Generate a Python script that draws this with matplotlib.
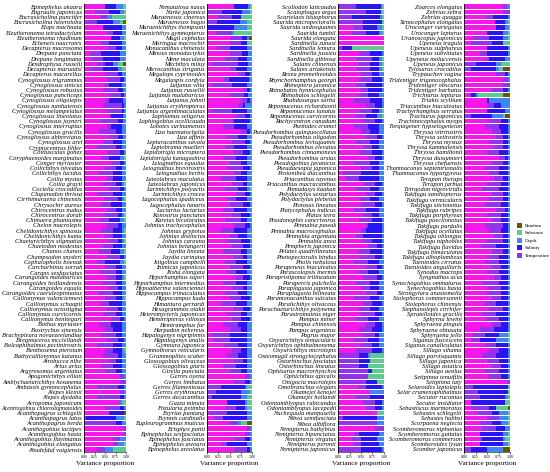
import matplotlib
matplotlib.use("Agg")
import matplotlib.pyplot as plt
from matplotlib.patches import Patch

# component order in the stacked bars (left -> right)
components = ["Spatial", "Temperature", "Salinity", "Depth", "Substrate", "Random"]
colors = ["#F618E8", "#9433EE", "#2A14F2", "#3F86F2", "#5DCB8F", "#6F5500"]
legend_order = ["Random", "Substrate", "Depth", "Salinity", "Temperature"]
x_ticks = [0.0, 0.25, 0.50, 0.75, 1.00]
x_ticklabels = ["0.00", "0.25", "0.50", "0.75", "1.00"]
x_label = "Variance proportion"

p1_species = [
    "Epinephelus akaara", "Engraulis japonicus", "Encrasicholina punctifer", "Encrasicholina heteroloba",
    "Elops machnata", "Eleutheronema tetradactylum", "Eleutheronema rhadinum", "Echeneis naucrates",
    "Decapterus macrosoma", "Drepane punctata", "Drepane longimana", "Dendrophysa russelii",
    "Decapterus maruadsi", "Decapterus macarellus", "Cynoglossus trigrammus", "Cynoglossus sinicus",
    "Cynoglossus robustus", "Cynoglossus puncticeps", "Cynoglossus oligolepis", "Cynoglossus nanhaiensis",
    "Cynoglossus melampetalus", "Cynoglossus lineolatus", "Cynoglossus joyneri", "Cynoglossus interruptus",
    "Cynoglossus gracilis", "Cynoglossus abbreviatus", "Cynoglossus arel", "Cryptocentrus filifer",
    "Cottiusculus gonez", "Coryphaenoides marginatus", "Conger myriaster", "Collichthys niveatus",
    "Collichthys lucidus", "Coilia mystus", "Coilia grayii", "Cociella crocodilus",
    "Clupanodon thrissa", "Cirrhimuraena chinensis", "Chrysochir aureus", "Chirocentrus nudus",
    "Chirocentrus dorab", "Chimaera phantasma", "Chelon macrolepis", "Chelidonichthys spinosus",
    "Chelidonichthys kumu", "Chaeturichthys stigmatias", "Chaetodon modestus", "Chanos chanos",
    "Champsodon snyderi", "Cephalopholis boenak", "Carcharhinus sorrah", "Caranx sexfasciatus",
    "Carangoides malabaricus", "Carangoides hedlandensis", "Carangoides equula", "Carangoides caeruleopinnatus",
    "Callionymus valenciennesi", "Callionymus schaapii", "Callionymus octostigma", "Callionymus curvicornis",
    "Callionymus beniteguri", "Bothus myriaster", "Bostrychus sinensis", "Brachypleura novaezeelandiae",
    "Bregmaceros mcclellandi", "Boleophthalmus pectinirostris", "Benthosema pterotum", "Bathycallionymus kaianus",
    "Atrobucca nibe", "Arius arius", "Argyrosomus argentatus", "Apogonichthys ellioti",
    "Amblychaeturichthys hexanema", "Ambassis gymnocephalus", "Alepes kleinii", "Alepes djedaba",
    "Acropoma japonicum", "Acentrogobius chlorostigmatoides", "Acanthopagrus schlegelii", "Acanthopagrus latus",
    "Acanthopagrus berda", "Acanthogobius lactipes", "Acanthogobius hasta", "Acanthogobius flavimanus",
    "Acanthogobius elongatus", "Abudefduf vaigiensis",
]
p1_values = [
    [49, 0, 28, 16, 7, 0], [25, 35, 25, 10, 5, 0], [40, 15, 0, 12, 33, 0], [5, 25, 40, 15, 8, 7],
    [45, 0, 45, 10, 0, 0], [55, 15, 20, 10, 0, 0], [65, 0, 20, 10, 5, 0], [40, 20, 30, 10, 0, 0],
    [55, 20, 15, 10, 0, 0], [15, 25, 45, 15, 0, 0], [20, 25, 40, 15, 0, 0], [30, 20, 20, 10, 12, 8],
    [15, 30, 35, 10, 10, 0], [50, 30, 10, 10, 0, 0], [55, 30, 10, 5, 0, 0], [50, 10, 30, 10, 0, 0],
    [45, 35, 12, 8, 0, 0], [60, 28, 8, 4, 0, 0], [50, 10, 32, 8, 0, 0], [45, 45, 5, 5, 0, 0],
    [55, 35, 5, 5, 0, 0], [60, 5, 28, 7, 0, 0], [40, 40, 12, 8, 0, 0], [55, 10, 25, 10, 0, 0],
    [35, 40, 15, 10, 0, 0], [60, 20, 12, 8, 0, 0], [45, 25, 20, 10, 0, 0], [30, 45, 15, 10, 0, 0],
    [55, 30, 10, 5, 0, 0], [40, 20, 25, 10, 5, 0], [65, 20, 10, 5, 0, 0], [50, 25, 15, 10, 0, 0],
    [35, 35, 20, 10, 0, 0], [55, 15, 20, 10, 0, 0], [45, 30, 15, 5, 5, 0], [60, 25, 10, 5, 0, 0],
    [30, 40, 20, 10, 0, 0], [50, 30, 10, 5, 5, 0], [40, 25, 25, 10, 0, 0], [55, 20, 15, 10, 0, 0],
    [45, 35, 10, 5, 5, 0], [35, 25, 25, 10, 5, 0], [55, 25, 10, 10, 0, 0], [40, 30, 20, 5, 5, 0],
    [50, 20, 20, 10, 0, 0], [60, 20, 10, 5, 5, 0], [45, 25, 20, 10, 0, 0], [35, 30, 20, 10, 5, 0],
    [55, 30, 10, 5, 0, 0], [30, 20, 35, 10, 5, 0], [50, 25, 15, 10, 0, 0], [40, 35, 15, 10, 0, 0],
    [55, 20, 15, 5, 5, 0], [45, 30, 15, 10, 0, 0], [60, 20, 10, 10, 0, 0], [35, 35, 20, 10, 0, 0],
    [50, 25, 15, 5, 5, 0], [40, 20, 30, 10, 0, 0], [55, 25, 10, 10, 0, 0], [45, 30, 15, 10, 0, 0],
    [65, 20, 10, 5, 0, 0], [35, 30, 25, 10, 0, 0], [50, 20, 20, 10, 0, 0], [40, 35, 15, 10, 0, 0],
    [55, 25, 15, 5, 0, 0], [30, 40, 20, 10, 0, 0], [50, 20, 20, 5, 5, 0], [45, 35, 10, 10, 0, 0],
    [60, 15, 15, 10, 0, 0], [40, 30, 20, 10, 0, 0], [50, 25, 15, 10, 0, 0], [85, 10, 0, 5, 0, 0],
    [85, 15, 0, 0, 0, 0], [30, 50, 15, 5, 0, 0], [85, 10, 0, 5, 0, 0], [30, 55, 10, 5, 0, 0],
    [85, 0, 0, 5, 10, 0], [50, 35, 10, 5, 0, 0], [60, 0, 35, 0, 0, 5], [0, 5, 70, 20, 5, 0],
    [0, 75, 15, 10, 0, 0], [95, 5, 0, 0, 0, 0], [95, 5, 0, 0, 0, 0], [70, 15, 0, 15, 0, 0],
    [70, 10, 0, 15, 5, 0], [30, 20, 0, 20, 30, 0],
]

p2_species = [
    "Nematalosa nasus", "Narke japonica", "Muraenesox cinereus", "Muraenesox bagio",
    "Muraenichthys thompsoni", "Muraenichthys gymnopterus", "Mugil cephalus", "Moringua macrochir",
    "Monacanthus chinensis", "Minous monodactylus", "Mene maculata", "Miichthys miiuy",
    "Microcanthus strigatus", "Megalops cyprinoides", "Megalaspis cordyla", "Lutjanus vitta",
    "Lutjanus russellii", "Lutjanus malabaricus", "Lutjanus johnii", "Lutjanus erythropterus",
    "Lutjanus argentimaculatus", "Lophiomus setigerus", "Lophiogobius ocellicauda", "Lobotes surinamensis",
    "Liza haematocheila", "Liza affinis", "Lepturacanthus savala", "Leptobrama muelleri",
    "Lepidotrigla microptera", "Lepidotrigla kanagashira", "Leiognathus equulus", "Leiognathus brevirostris",
    "Leiognathus berbis", "Lateolabrax maculatus", "Lateolabrax japonicus", "Larimichthys polyactis",
    "Larimichthys crocea", "Lagocephalus spadiceus", "Lagocephalus lunaris", "Lactarius lactarius",
    "Konosirus punctatus", "Kareius bicoloratus", "Johnius trachycephalus", "Johnius grypotus",
    "Johnius distinctus", "Johnius carouna", "Johnius belangerii", "Jaydia lineata",
    "Jaydia carinatus", "Istigobius campbelli", "Inimicus japonicus", "Ilisha elongata",
    "Hyporhamphus sajori", "Hyporhamphus intermedius", "Hypoatherina valenciennei", "Hippocampus trimaculatus",
    "Hippocampus kuda", "Himantura gerrardi", "Hexagrammos otakii", "Heteromycteris japonicus",
    "Hemitripterus villosus", "Hemiramphus far", "Harpadon nehereus", "Hapalogenys nigripinnis",
    "Hapalogenys analis", "Gymnura japonica", "Gymnothorax reticularis", "Grammoplites scaber",
    "Glossogobius olivaceus", "Glossogobius giuris", "Girella punctata", "Gerres oyena",
    "Gerres limbatus", "Gerres filamentosus", "Gerres erythrourus", "Gerres decacanthus",
    "Gazza minuta", "Fistularia petimba", "Exyrias puntang", "Evynnis cardinalis",
    "Eupleurogrammus muticus", "Erisphex pottii", "Epinephelus sexfasciatus", "Epinephelus fasciatus",
    "Epinephelus awoara", "Epinephelus areolatus",
]
p2_values = [
    [59, 0, 33, 3, 5, 0], [0, 33, 44, 19, 4, 0], [25, 30, 20, 0, 25, 0], [0, 22, 52, 15, 11, 0],
    [0, 0, 60, 30, 10, 0], [20, 35, 0, 5, 40, 0], [52, 26, 10, 5, 0, 7], [50, 25, 15, 0, 10, 0],
    [22, 30, 38, 10, 0, 0], [52, 25, 15, 8, 0, 0], [40, 30, 20, 10, 0, 0], [10, 60, 22, 8, 0, 0],
    [50, 15, 25, 10, 0, 0], [70, 15, 10, 5, 0, 0], [38, 10, 45, 7, 0, 0], [10, 45, 35, 10, 0, 0],
    [80, 10, 5, 5, 0, 0], [52, 30, 10, 8, 0, 0], [78, 12, 5, 5, 0, 0], [70, 10, 5, 15, 0, 0],
    [10, 45, 35, 10, 0, 0], [65, 20, 10, 5, 0, 0], [55, 5, 35, 5, 0, 0], [35, 25, 30, 10, 0, 0],
    [75, 15, 5, 5, 0, 0], [45, 25, 20, 10, 0, 0], [55, 30, 10, 5, 0, 0], [40, 20, 30, 10, 0, 0],
    [60, 20, 15, 5, 0, 0], [35, 30, 25, 10, 0, 0], [50, 25, 15, 10, 0, 0], [45, 35, 15, 5, 0, 0],
    [60, 15, 15, 10, 0, 0], [30, 35, 25, 10, 0, 0], [55, 25, 10, 10, 0, 0], [40, 30, 20, 5, 5, 0],
    [65, 20, 10, 5, 0, 0], [45, 20, 25, 10, 0, 0], [50, 30, 15, 5, 0, 0], [35, 25, 30, 10, 0, 0],
    [55, 20, 20, 5, 0, 0], [40, 35, 15, 10, 0, 0], [60, 25, 10, 5, 0, 0], [30, 30, 30, 10, 0, 0],
    [50, 20, 20, 10, 0, 0], [45, 30, 20, 5, 0, 0], [55, 25, 15, 5, 0, 0], [35, 40, 15, 10, 0, 0],
    [60, 20, 10, 10, 0, 0], [40, 25, 25, 10, 0, 0], [50, 30, 15, 5, 0, 0], [45, 20, 25, 10, 0, 0],
    [65, 15, 15, 5, 0, 0], [35, 30, 25, 10, 0, 0], [55, 25, 10, 10, 0, 0], [40, 30, 20, 10, 0, 0],
    [50, 25, 20, 5, 0, 0], [30, 35, 25, 10, 0, 0], [60, 20, 15, 5, 0, 0], [45, 30, 15, 10, 0, 0],
    [55, 20, 20, 5, 0, 0], [35, 35, 20, 10, 0, 0], [50, 25, 15, 10, 0, 0], [10, 40, 40, 10, 0, 0],
    [15, 35, 40, 10, 0, 0], [40, 30, 20, 10, 0, 0], [55, 20, 15, 10, 0, 0], [45, 25, 20, 10, 0, 0],
    [60, 20, 10, 10, 0, 0], [35, 30, 25, 10, 0, 0], [50, 25, 15, 10, 0, 0], [85, 10, 0, 5, 0, 0],
    [60, 25, 10, 5, 0, 0], [0, 30, 55, 5, 10, 0], [0, 20, 55, 20, 5, 0], [0, 10, 65, 15, 10, 0],
    [45, 0, 40, 5, 10, 0], [40, 25, 20, 5, 10, 0], [5, 40, 45, 10, 0, 0], [15, 20, 55, 10, 0, 0],
    [50, 20, 0, 5, 15, 10], [90, 5, 0, 5, 0, 0], [85, 10, 0, 5, 0, 0], [60, 25, 10, 5, 0, 0],
    [30, 15, 45, 10, 0, 0], [60, 30, 5, 5, 0, 0],
]

p3_species = [
    "Scoliodon laticaudus", "Scatophagus argus", "Scartelaos histophorus", "Saurida micropectoralis",
    "Saurida undosquamis", "Saurida tumbil", "Saurida elongata", "Sardinella zunasi",
    "Sardinella lemuru", "Sardinella jussieu", "Sardinella gibbosa", "Salanx chinensis",
    "Salanx ariakensis", "Rexea prometheoides", "Rhynchorhamphus georgii", "Rhinoptera javanica",
    "Rhinobatos hynnicephalus", "Rhinobatos schlegelii", "Rhabdosargus sarba", "Repomucenus richardsonii",
    "Repomucenus lunatus", "Repomucenus curvicornis", "Rachycentron canadum", "Psettodes erumei",
    "Pseudorhombus quinquocellatus", "Pseudorhombus oligodon", "Pseudorhombus levisquamis", "Pseudorhombus elevatus",
    "Pseudorhombus cinnamoneus", "Pseudorhombus arsius", "Pseudogobius javanicus", "Pseudaesopia japonica",
    "Protonibea diacanthus", "Priacanthus tayenus", "Priacanthus macracanthus", "Pomadasys kaakan",
    "Polydactylus sextarius", "Polydactylus plebeius", "Plotosus lineatus", "Platycephalus indicus",
    "Platax teira", "Pisodonophis cancrivorus", "Pennahia pawak", "Pennahia macrocephalus",
    "Pennahia argentata", "Pennahia anea", "Pempheris japonica", "Pelates quadrilineatus",
    "Photopectoralis bindus", "Pholis nebulosa", "Parupeneus biaculeatus", "Parascolopsis inermis",
    "Parapristipoma trilineatum", "Parapercis pulchella", "Paraplagusia japonica", "Paraplagusia bilineata",
    "Paramonacanthus sulcatus", "Paralichthys olivaceus", "Parachaeturichthys polynema", "Parastromateus niger",
    "Pampus minor", "Pampus chinensis", "Pampus argenteus", "Pagrus major",
    "Oxyurichthys tentacularis", "Oxyurichthys ophthalmonema", "Oxyurichthys microlepis", "Osteomugil strongylocephalus",
    "Ostorhinchus fasciatus", "Ostorhinchus lineatus", "Ophisurus macrorhynchos", "Ophichthus apicalis",
    "Onigocia macrolepis", "Omobranchus elegans", "Okamejei kenojei", "Okamejei hollandi",
    "Odontamblyopus rubicundus", "Odontamblyopus lacepedii", "Nuchequula mannusella", "Nibea semifasciata",
    "Nibea albiflora", "Nemipterus bathybius", "Nemipterus bipunctatus", "Nemipterus virgatus",
    "Nemipterus peronii", "Nemipterus japonicus",
]
p3_values = [
    [0, 40, 53, 3, 4, 0], [0, 60, 33, 0, 7, 0], [0, 30, 62, 3, 5, 0], [0, 55, 40, 0, 5, 0],
    [35, 20, 30, 10, 5, 0], [30, 30, 30, 5, 5, 0], [100, 0, 0, 0, 0, 0], [100, 0, 0, 0, 0, 0],
    [0, 8, 22, 0, 70, 0], [45, 25, 25, 5, 0, 0], [40, 35, 15, 5, 5, 0], [45, 25, 20, 5, 5, 0],
    [40, 30, 20, 5, 5, 0], [50, 25, 15, 10, 0, 0], [45, 30, 20, 5, 0, 0], [40, 20, 35, 5, 0, 0],
    [50, 15, 30, 5, 0, 0], [45, 20, 25, 10, 0, 0], [35, 35, 25, 5, 0, 0], [60, 20, 15, 5, 0, 0],
    [45, 30, 15, 5, 5, 0], [40, 20, 25, 10, 5, 0], [55, 25, 15, 5, 0, 0], [35, 30, 25, 10, 0, 0],
    [50, 20, 20, 10, 0, 0], [60, 25, 10, 5, 0, 0], [40, 30, 20, 10, 0, 0], [55, 20, 15, 10, 0, 0],
    [45, 30, 20, 5, 0, 0], [65, 15, 15, 5, 0, 0], [35, 35, 20, 10, 0, 0], [50, 25, 15, 10, 0, 0],
    [10, 40, 40, 10, 0, 0], [15, 30, 45, 10, 0, 0], [55, 25, 15, 5, 0, 0], [40, 30, 20, 10, 0, 0],
    [60, 20, 15, 5, 0, 0], [45, 25, 20, 10, 0, 0], [50, 30, 15, 5, 0, 0], [35, 25, 30, 10, 0, 0],
    [55, 20, 15, 10, 0, 0], [45, 30, 20, 5, 0, 0], [60, 5, 30, 5, 0, 0], [50, 10, 35, 5, 0, 0],
    [40, 15, 40, 5, 0, 0], [55, 20, 20, 5, 0, 0], [65, 20, 10, 5, 0, 0], [45, 25, 25, 5, 0, 0],
    [50, 30, 15, 5, 0, 0], [35, 30, 25, 10, 0, 0], [60, 25, 10, 5, 0, 0], [45, 20, 25, 10, 0, 0],
    [55, 30, 10, 5, 0, 0], [40, 30, 20, 10, 0, 0], [50, 20, 20, 10, 0, 0], [60, 25, 10, 5, 0, 0],
    [35, 35, 20, 10, 0, 0], [55, 20, 20, 5, 0, 0], [45, 25, 20, 10, 0, 0], [50, 30, 15, 5, 0, 0],
    [40, 25, 25, 10, 0, 0], [60, 20, 15, 5, 0, 0], [45, 30, 20, 5, 0, 0], [55, 25, 10, 10, 0, 0],
    [35, 30, 25, 10, 0, 0], [50, 25, 15, 10, 0, 0], [40, 35, 20, 5, 0, 0], [0, 45, 20, 5, 30, 0],
    [0, 45, 25, 0, 30, 0], [0, 45, 20, 0, 35, 0], [0, 65, 10, 0, 25, 0], [0, 65, 0, 0, 35, 0],
    [0, 60, 25, 0, 15, 0], [45, 15, 35, 5, 0, 0], [70, 0, 0, 30, 0, 0], [40, 30, 30, 0, 0, 0],
    [55, 25, 15, 5, 0, 0], [60, 20, 15, 5, 0, 0], [85, 0, 0, 0, 15, 0], [0, 10, 75, 15, 0, 0],
    [0, 85, 0, 15, 0, 0], [80, 20, 0, 0, 0, 0], [35, 10, 45, 10, 0, 0], [30, 20, 35, 15, 0, 0],
    [35, 15, 40, 10, 0, 0], [0, 50, 45, 5, 0, 0],
]

p4_species = [
    "Zoarces elongatus", "Zebrias zebra", "Zebrias quagga", "Xenocephalus elongatus",
    "Uroconger variegatus", "Uroconger lepturus", "Uranoscopus japonicus", "Upeneus tragula",
    "Upeneus sulphureus", "Upeneus subvittatus", "Upeneus moluccensis", "Upeneus japonicus",
    "Tylosurus crocodilus", "Trypauchen vagina", "Tridentiger trigonocephalus", "Tridentiger obscurus",
    "Tridentiger barbatus", "Trichiurus lepturus", "Triakis scyllium", "Triacanthus biaculeatus",
    "Trachyrhamphus serratus", "Trachurus japonicus", "Trachinocephalus myops", "Torquigener hypselogeneion",
    "Thryssa vitrirostris", "Thryssa setirostris", "Thryssa mystax", "Thryssa kammalensis",
    "Thryssa hamiltonii", "Thryssa dussumieri", "Thryssa chefuensis", "Thamnaconus septentrionalis",
    "Thamnaconus hypargyreus", "Terapon theraps", "Terapon jarbua", "Tetraodon nigroviridis",
    "Takifugu xanthopterus", "Takifugu vermicularis", "Takifugu stictonotus", "Takifugu rubripes",
    "Takifugu porphyreus", "Takifugu poecilonotus", "Takifugu pardalis", "Takifugu ocellatus",
    "Takifugu oblongus", "Takifugu niphobles", "Takifugu flavidus", "Takifugu bimaculatus",
    "Takifugu alboplumbeus", "Taenioides cirratus", "Taenioides anguillaris", "Synodus macrops",
    "Syngnathus acus", "Synechogobius ommaturus", "Synechogobius hasta", "Strongylura anastomella",
    "Stolephorus commersonnii", "Stolephorus chinensis", "Stephanolepis cirrhifer", "Spratelloides gracilis",
    "Sphyrna lewini", "Sphyraena pinguis", "Sphyraena obtusata", "Sphyraena jello",
    "Siganus fuscescens", "Siganus canaliculatus", "Sillago sihama", "Sillago parvisquamis",
    "Sillago japonica", "Sillago asiatica", "Sillago aeolus", "Setipinna tenuifilis",
    "Setipinna taty", "Selaroides leptolepis", "Selar crumenophthalmus", "Secutor ruconius",
    "Secutor insidiator", "Sebastiscus marmoratus", "Sebastes schlegelii", "Sebastes hubbsi",
    "Scorpaena neglecta", "Scomberomorus niphonius", "Scomberomorus guttatus", "Scomberomorus commerson",
    "Scomberoides lysan", "Scomber japonicus",
]
p4_values = [
    [85, 8, 0, 7, 0, 0], [85, 15, 0, 0, 0, 0], [48, 15, 33, 4, 0, 0], [67, 0, 22, 7, 4, 0],
    [70, 0, 20, 8, 2, 0], [50, 0, 35, 10, 5, 0], [20, 35, 30, 10, 5, 0], [15, 45, 25, 0, 15, 0],
    [50, 0, 45, 5, 0, 0], [35, 15, 45, 5, 0, 0], [50, 5, 35, 10, 0, 0], [0, 25, 45, 10, 20, 0],
    [0, 15, 55, 5, 10, 15], [70, 20, 5, 5, 0, 0], [85, 10, 0, 5, 0, 0], [85, 15, 0, 0, 0, 0],
    [60, 25, 10, 5, 0, 0], [10, 5, 10, 5, 55, 15], [50, 0, 5, 45, 0, 0], [50, 15, 15, 20, 0, 0],
    [50, 0, 40, 10, 0, 0], [0, 15, 45, 25, 5, 10], [55, 25, 15, 5, 0, 0], [45, 30, 20, 5, 0, 0],
    [60, 20, 15, 5, 0, 0], [70, 15, 10, 5, 0, 0], [55, 30, 10, 5, 0, 0], [65, 20, 10, 5, 0, 0],
    [50, 25, 20, 5, 0, 0], [75, 15, 5, 5, 0, 0], [60, 25, 10, 5, 0, 0], [45, 30, 20, 5, 0, 0],
    [55, 20, 20, 5, 0, 0], [65, 20, 10, 5, 0, 0], [50, 30, 15, 5, 0, 0], [40, 35, 20, 5, 0, 0],
    [60, 25, 10, 5, 0, 0], [55, 30, 10, 5, 0, 0], [45, 35, 15, 5, 0, 0], [70, 20, 5, 5, 0, 0],
    [50, 30, 15, 5, 0, 0], [60, 20, 15, 5, 0, 0], [45, 40, 10, 5, 0, 0], [55, 25, 15, 5, 0, 0],
    [65, 20, 10, 5, 0, 0], [50, 35, 10, 5, 0, 0], [40, 30, 25, 5, 0, 0], [60, 25, 10, 5, 0, 0],
    [55, 20, 20, 5, 0, 0], [45, 30, 20, 5, 0, 0], [60, 20, 15, 5, 0, 0], [50, 25, 20, 5, 0, 0],
    [65, 15, 15, 5, 0, 0], [40, 35, 20, 5, 0, 0], [55, 25, 15, 5, 0, 0], [50, 30, 15, 5, 0, 0],
    [60, 20, 15, 5, 0, 0], [45, 25, 25, 5, 0, 0], [55, 30, 10, 5, 0, 0], [40, 30, 25, 5, 0, 0],
    [50, 25, 20, 5, 0, 0], [60, 20, 15, 5, 0, 0], [35, 30, 30, 5, 0, 0], [20, 25, 30, 20, 5, 0],
    [15, 20, 35, 25, 5, 0], [45, 25, 25, 5, 0, 0], [55, 20, 20, 5, 0, 0], [40, 30, 25, 5, 0, 0],
    [50, 25, 20, 5, 0, 0], [60, 20, 15, 5, 0, 0], [45, 30, 20, 5, 0, 0], [55, 25, 15, 5, 0, 0],
    [95, 5, 0, 0, 0, 0], [0, 20, 75, 0, 5, 0], [0, 30, 65, 0, 5, 0], [0, 35, 55, 5, 5, 0],
    [15, 0, 75, 0, 10, 0], [15, 40, 15, 0, 25, 5], [30, 30, 15, 20, 5, 0], [50, 25, 0, 20, 5, 0],
    [35, 25, 20, 15, 5, 0], [40, 30, 20, 10, 0, 0], [35, 0, 50, 10, 5, 0], [35, 5, 45, 5, 10, 0],
    [35, 0, 50, 10, 5, 0], [0, 15, 35, 35, 0, 15],
]

W, H = 550, 472
fig = plt.figure(figsize=(W / 100, H / 100), dpi=100)
panel_px = [(84, 126), (207, 252), (338, 384), (464, 510)]
top_px, bottom_px = 4, 452
serif = "Liberation Serif"
label_size = 4.6

panels = [(p1_species, p1_values), (p2_species, p2_values),
          (p3_species, p3_values), (p4_species, p4_values)]

fig.canvas.draw()
renderer = fig.canvas.get_renderer()

for (x0, x1), (names, vals) in zip(panel_px, panels):
    ax = fig.add_axes([x0 / W, 1 - bottom_px / H, (x1 - x0) / W, (bottom_px - top_px) / H])
    n = min(len(names), len(vals))
    names = names[:n]
    rows = [[v / sum(r) for v in r] for r in vals[:n]]
    ypos = list(range(n))
    left = [0.0] * n
    for k, col in enumerate(colors):
        widths = [r[k] for r in rows]
        ax.barh(ypos, widths, left=left, height=0.82, color=col, linewidth=0)
        left = [a + b for a, b in zip(left, widths)]
    ax.set_xlim(0, 1)
    ax.set_ylim(n - 0.5, -0.5)
    ax.set_yticks(ypos)
    ax.set_yticklabels(names, fontsize=label_size, fontstyle="italic", family=serif)
    ax.tick_params(axis="y", length=0, pad=1.5)
    ax.set_xticks(x_ticks)
    ax.set_xticklabels(x_ticklabels, fontsize=2.8, family=serif)
    ax.tick_params(axis="x", length=1.2, width=0.4, pad=1)
    ax.set_xlabel(x_label, fontsize=5.2, family=serif, labelpad=1.5)
    for s in ["top", "right"]:
        ax.spines[s].set_visible(False)
    ax.spines["left"].set_linewidth(0.6)
    ax.spines["bottom"].set_linewidth(0.4)
    ax.set_facecolor("white")
    # shrink any label that would run past the left edge of the figure
    avail = x0 - 3.5
    for lab in ax.get_yticklabels():
        w = lab.get_window_extent(renderer=renderer).width
        if w > avail:
            lab.set_fontsize(label_size * avail / w)

handles = [Patch(facecolor=colors[components.index(c)], edgecolor="none", label=c) for c in legend_order]
fig.legend(handles=handles, loc="upper left", bbox_to_anchor=(513 / W, 1 - 219 / H),
           frameon=False, prop={"family": serif, "size": 3.6},
           handlelength=1.0, handleheight=1.2, handletextpad=0.6, labelspacing=0.45, borderpad=0.2)

fig.savefig("out.png", dpi=100)
